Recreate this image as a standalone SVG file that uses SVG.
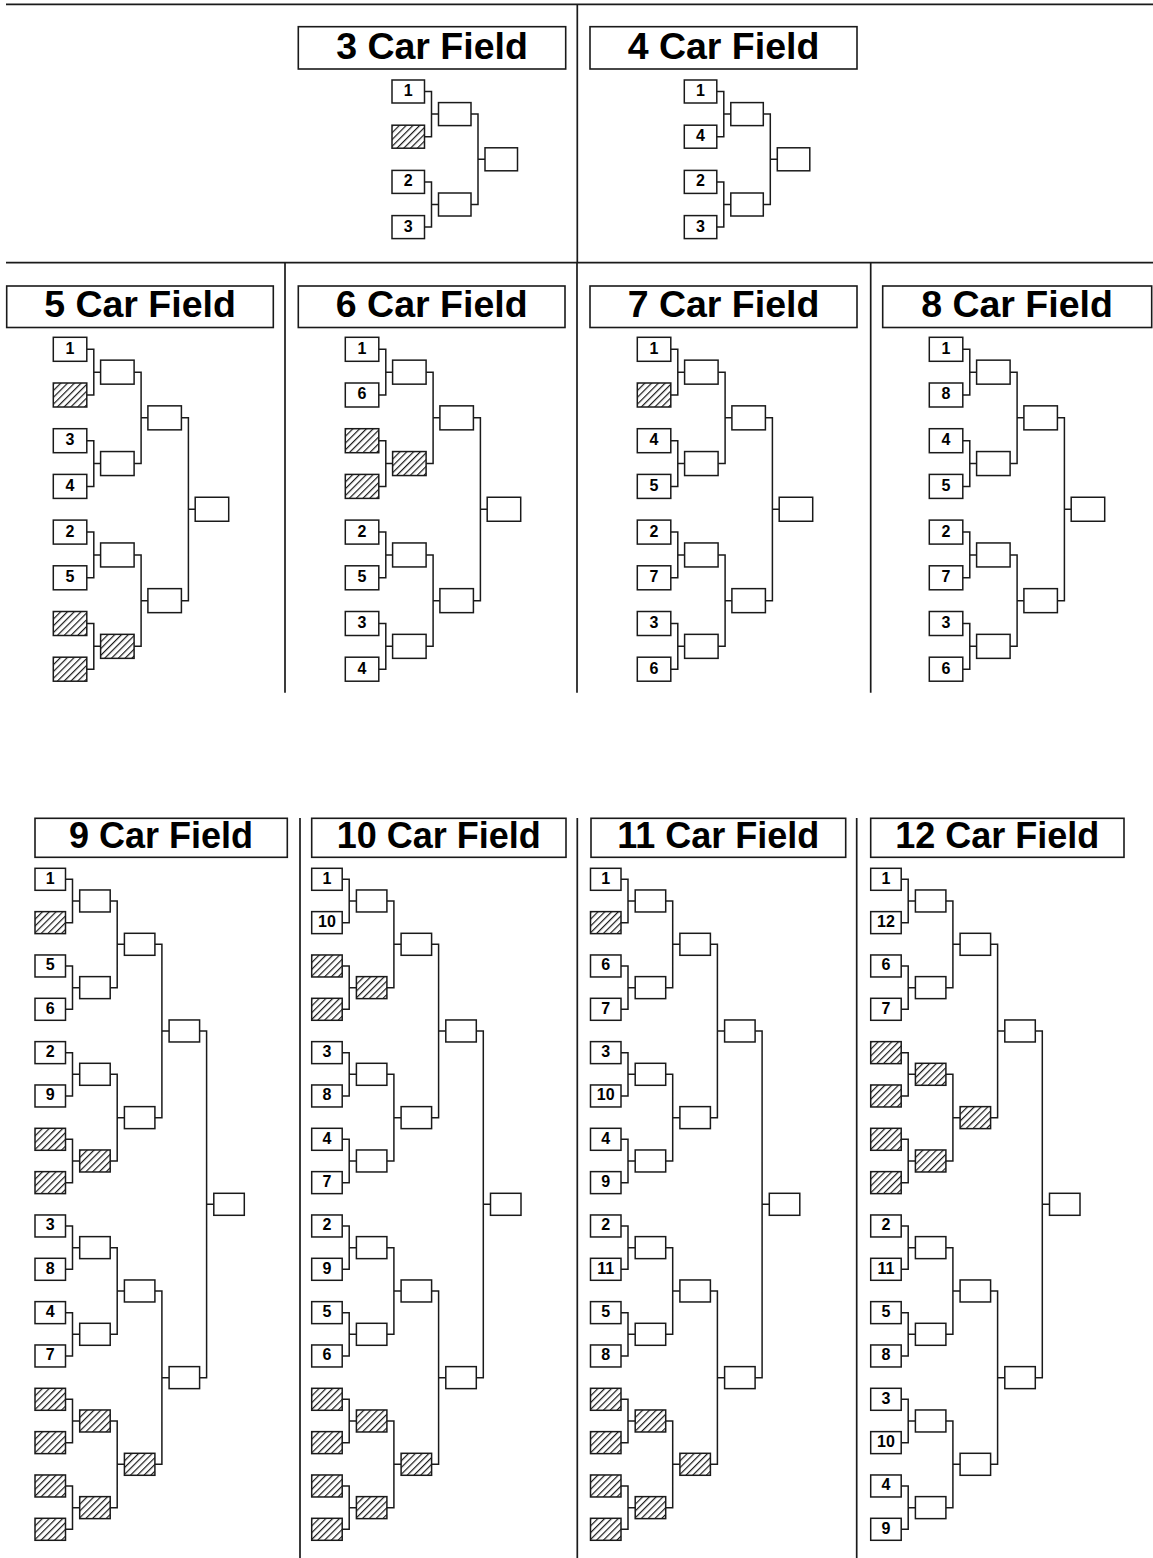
<svg xmlns="http://www.w3.org/2000/svg" xmlns:xlink="http://www.w3.org/1999/xlink" width="1153" height="1558" viewBox="0 0 1153 1558">
<style>
.b{fill:#fff;stroke:#1a1a1a;stroke-width:1.5}
.h{fill:url(#hatch);stroke:#1a1a1a;stroke-width:1.5}
.c{fill:none;stroke:#1a1a1a;stroke-width:1.5}
.d{fill:none;stroke:#1a1a1a;stroke-width:1.7}
.tb{fill:#fff;stroke:#1a1a1a;stroke-width:1.6}
.n{font-family:"Liberation Sans",Arial,sans-serif;font-weight:bold;font-size:16px;text-anchor:middle;fill:#000}
.t{font-family:"Liberation Sans",Arial,sans-serif;font-weight:bold;font-size:37.5px;text-anchor:middle;fill:#000}
.tb2{font-size:36px}
</style>
<defs>
<pattern id="hatch" patternUnits="userSpaceOnUse" width="4.8" height="4.8" patternTransform="rotate(45)">
<rect width="4.8" height="4.8" fill="#fff"/>
<line x1="0.6" y1="0" x2="0.6" y2="4.8" stroke="#1a1a1a" stroke-width="1.2"/>
</pattern>
<rect id="bT" class="b" width="32.5" height="23"/>
<rect id="hT" class="h" width="32.5" height="23"/>
<rect id="bM" class="b" width="33.5" height="24"/>
<rect id="hM" class="h" width="33.5" height="24"/>
<rect id="bB" class="b" width="30.5" height="22"/>
<rect id="hB" class="h" width="30.5" height="22"/>
<path id="cT" d="M32.5,11.5H39.5V56.7H32.5M39.5,34.1H46.5M32.5,101.9H39.5V147.1H32.5M39.5,124.5H46.5M79,34.1H86V124.5H79M86,79.3H93"/>
<path id="cM" d="M33.5,12H40.5V57.7H33.5M40.5,34.85H47.3M33.5,103.4H40.5V149.1H33.5M40.5,126.25H47.3M33.5,194.8H40.5V240.5H33.5M40.5,217.65H47.3M33.5,286.2H40.5V331.9H33.5M40.5,309.05H47.3M80.8,34.85H87.8V126.25H80.8M87.8,80.55H94.6M80.8,217.65H87.8V309.05H80.8M87.8,263.35H94.6M128.1,80.55H135.1V263.35H128.1M135.1,171.95H141.9"/>
<path id="cB" d="M30.5,11H37.5V54.33H30.5M37.5,32.67H44.7M30.5,97.67H37.5V141H30.5M37.5,119.33H44.7M30.5,184.33H37.5V227.67H30.5M37.5,206H44.7M30.5,271H37.5V314.33H30.5M37.5,292.67H44.7M30.5,357.67H37.5V401H30.5M37.5,379.33H44.7M30.5,444.33H37.5V487.67H30.5M37.5,466H44.7M30.5,531H37.5V574.33H30.5M37.5,552.67H44.7M30.5,617.67H37.5V661H30.5M37.5,639.33H44.7M75.2,32.67H82.2V119.33H75.2M82.2,76H89.4M75.2,206H82.2V292.67H75.2M82.2,249.33H89.4M75.2,379.33H82.2V466H75.2M82.2,422.67H89.4M75.2,552.67H82.2V639.33H75.2M82.2,596H89.4M119.9,76H126.9V249.33H119.9M126.9,162.67H134.1M119.9,422.67H126.9V596H119.9M126.9,509.33H134.1M164.6,162.67H171.6V509.33H164.6M171.6,336H178.8"/>
</defs>
<rect width="1153" height="1558" fill="#fff"/>

<g id="dividers" class="d">
<path d="M6,4.3H1153M6,262.7H1153M577.3,4.3V262.7M285,262.7V692.7M577,262.7V692.7M870.7,262.7V692.7M300,818V1558M577.3,818V1558M856.7,818V1558"/>
</g>

<g id="titles">
<g id="title3"><rect class="tb" x="298.3" y="26.7" width="267.4" height="42.3"/><text class="t" x="432" y="58.5">3 Car Field</text></g>
<g id="title4"><rect class="tb" x="590" y="26.7" width="267" height="42.3"/><text class="t" x="723.5" y="58.5">4 Car Field</text></g>
<g id="title5"><rect class="tb" x="6.7" y="286" width="266.6" height="41.5"/><text class="t" x="140" y="317.3">5 Car Field</text></g>
<g id="title6"><rect class="tb" x="298.3" y="286" width="266.7" height="41.5"/><text class="t" x="431.7" y="317.3">6 Car Field</text></g>
<g id="title7"><rect class="tb" x="590" y="286" width="267" height="41.5"/><text class="t" x="723.5" y="317.3">7 Car Field</text></g>
<g id="title8"><rect class="tb" x="882.7" y="286" width="269" height="41.5"/><text class="t" x="1017" y="317.3">8 Car Field</text></g>
<g id="title9"><rect class="tb" x="35" y="818.3" width="252.3" height="39"/><text class="t tb2" x="161" y="848.3">9 Car Field</text></g>
<g id="title10"><rect class="tb" x="311.7" y="818.3" width="254.3" height="39"/><text class="t tb2" x="438.8" y="848.3">10 Car Field</text></g>
<g id="title11"><rect class="tb" x="591" y="818.3" width="254.7" height="39"/><text class="t tb2" x="718.3" y="848.3">11 Car Field</text></g>
<g id="title12"><rect class="tb" x="870.7" y="818.3" width="253.3" height="39"/><text class="t tb2" x="997.3" y="848.3">12 Car Field</text></g>
</g>

<g id="connectors" class="c">
<use href="#cT" x="392" y="80"/>
<use href="#cT" x="684.3" y="80"/>
<use href="#cM" x="53.3" y="337.3"/>
<use href="#cM" x="345.3" y="337.3"/>
<use href="#cM" x="637.3" y="337.3"/>
<use href="#cM" x="929.3" y="337.3"/>
<use href="#cB" x="35" y="868.3"/>
<use href="#cB" x="311.7" y="868.3"/>
<use href="#cB" x="590.5" y="868.3"/>
<use href="#cB" x="870.7" y="868.3"/>
</g>

<g id="field3" transform="translate(392,80)">
<g id="f3-r1-1"><use href="#bT"/><text class="n" x="16.25" y="16">1</text></g>
<g id="f3-r1-2"><use href="#hT" y="45.2"/></g>
<g id="f3-r1-3"><use href="#bT" y="90.4"/><text class="n" x="16.25" y="106.4">2</text></g>
<g id="f3-r1-4"><use href="#bT" y="135.6"/><text class="n" x="16.25" y="151.6">3</text></g>
<g id="f3-r2-1"><use href="#bT" x="46.5" y="22.6"/></g>
<g id="f3-r2-2"><use href="#bT" x="46.5" y="113"/></g>
<g id="f3-r3-1"><use href="#bT" x="93" y="67.8"/></g>
</g>

<g id="field4" transform="translate(684.3,80)">
<g id="f4-r1-1"><use href="#bT"/><text class="n" x="16.25" y="16">1</text></g>
<g id="f4-r1-2"><use href="#bT" y="45.2"/><text class="n" x="16.25" y="61.2">4</text></g>
<g id="f4-r1-3"><use href="#bT" y="90.4"/><text class="n" x="16.25" y="106.4">2</text></g>
<g id="f4-r1-4"><use href="#bT" y="135.6"/><text class="n" x="16.25" y="151.6">3</text></g>
<g id="f4-r2-1"><use href="#bT" x="46.5" y="22.6"/></g>
<g id="f4-r2-2"><use href="#bT" x="46.5" y="113"/></g>
<g id="f4-r3-1"><use href="#bT" x="93" y="67.8"/></g>
</g>

<g id="field5" transform="translate(53.3,337.3)">
<g id="f5-r1-1"><use href="#bM"/><text class="n" x="16.75" y="16.5">1</text></g>
<g id="f5-r1-2"><use href="#hM" y="45.7"/></g>
<g id="f5-r1-3"><use href="#bM" y="91.4"/><text class="n" x="16.75" y="107.9">3</text></g>
<g id="f5-r1-4"><use href="#bM" y="137.1"/><text class="n" x="16.75" y="153.6">4</text></g>
<g id="f5-r1-5"><use href="#bM" y="182.8"/><text class="n" x="16.75" y="199.3">2</text></g>
<g id="f5-r1-6"><use href="#bM" y="228.5"/><text class="n" x="16.75" y="245">5</text></g>
<g id="f5-r1-7"><use href="#hM" y="274.2"/></g>
<g id="f5-r1-8"><use href="#hM" y="319.9"/></g>
<g id="f5-r2-1"><use href="#bM" x="47.3" y="22.85"/></g>
<g id="f5-r2-2"><use href="#bM" x="47.3" y="114.25"/></g>
<g id="f5-r2-3"><use href="#bM" x="47.3" y="205.65"/></g>
<g id="f5-r2-4"><use href="#hM" x="47.3" y="297.05"/></g>
<g id="f5-r3-1"><use href="#bM" x="94.6" y="68.55"/></g>
<g id="f5-r3-2"><use href="#bM" x="94.6" y="251.35"/></g>
<g id="f5-r4-1"><use href="#bM" x="141.9" y="159.95"/></g>
</g>

<g id="field6" transform="translate(345.3,337.3)">
<g id="f6-r1-1"><use href="#bM"/><text class="n" x="16.75" y="16.5">1</text></g>
<g id="f6-r1-2"><use href="#bM" y="45.7"/><text class="n" x="16.75" y="62.2">6</text></g>
<g id="f6-r1-3"><use href="#hM" y="91.4"/></g>
<g id="f6-r1-4"><use href="#hM" y="137.1"/></g>
<g id="f6-r1-5"><use href="#bM" y="182.8"/><text class="n" x="16.75" y="199.3">2</text></g>
<g id="f6-r1-6"><use href="#bM" y="228.5"/><text class="n" x="16.75" y="245">5</text></g>
<g id="f6-r1-7"><use href="#bM" y="274.2"/><text class="n" x="16.75" y="290.7">3</text></g>
<g id="f6-r1-8"><use href="#bM" y="319.9"/><text class="n" x="16.75" y="336.4">4</text></g>
<g id="f6-r2-1"><use href="#bM" x="47.3" y="22.85"/></g>
<g id="f6-r2-2"><use href="#hM" x="47.3" y="114.25"/></g>
<g id="f6-r2-3"><use href="#bM" x="47.3" y="205.65"/></g>
<g id="f6-r2-4"><use href="#bM" x="47.3" y="297.05"/></g>
<g id="f6-r3-1"><use href="#bM" x="94.6" y="68.55"/></g>
<g id="f6-r3-2"><use href="#bM" x="94.6" y="251.35"/></g>
<g id="f6-r4-1"><use href="#bM" x="141.9" y="159.95"/></g>
</g>

<g id="field7" transform="translate(637.3,337.3)">
<g id="f7-r1-1"><use href="#bM"/><text class="n" x="16.75" y="16.5">1</text></g>
<g id="f7-r1-2"><use href="#hM" y="45.7"/></g>
<g id="f7-r1-3"><use href="#bM" y="91.4"/><text class="n" x="16.75" y="107.9">4</text></g>
<g id="f7-r1-4"><use href="#bM" y="137.1"/><text class="n" x="16.75" y="153.6">5</text></g>
<g id="f7-r1-5"><use href="#bM" y="182.8"/><text class="n" x="16.75" y="199.3">2</text></g>
<g id="f7-r1-6"><use href="#bM" y="228.5"/><text class="n" x="16.75" y="245">7</text></g>
<g id="f7-r1-7"><use href="#bM" y="274.2"/><text class="n" x="16.75" y="290.7">3</text></g>
<g id="f7-r1-8"><use href="#bM" y="319.9"/><text class="n" x="16.75" y="336.4">6</text></g>
<g id="f7-r2-1"><use href="#bM" x="47.3" y="22.85"/></g>
<g id="f7-r2-2"><use href="#bM" x="47.3" y="114.25"/></g>
<g id="f7-r2-3"><use href="#bM" x="47.3" y="205.65"/></g>
<g id="f7-r2-4"><use href="#bM" x="47.3" y="297.05"/></g>
<g id="f7-r3-1"><use href="#bM" x="94.6" y="68.55"/></g>
<g id="f7-r3-2"><use href="#bM" x="94.6" y="251.35"/></g>
<g id="f7-r4-1"><use href="#bM" x="141.9" y="159.95"/></g>
</g>

<g id="field8" transform="translate(929.3,337.3)">
<g id="f8-r1-1"><use href="#bM"/><text class="n" x="16.75" y="16.5">1</text></g>
<g id="f8-r1-2"><use href="#bM" y="45.7"/><text class="n" x="16.75" y="62.2">8</text></g>
<g id="f8-r1-3"><use href="#bM" y="91.4"/><text class="n" x="16.75" y="107.9">4</text></g>
<g id="f8-r1-4"><use href="#bM" y="137.1"/><text class="n" x="16.75" y="153.6">5</text></g>
<g id="f8-r1-5"><use href="#bM" y="182.8"/><text class="n" x="16.75" y="199.3">2</text></g>
<g id="f8-r1-6"><use href="#bM" y="228.5"/><text class="n" x="16.75" y="245">7</text></g>
<g id="f8-r1-7"><use href="#bM" y="274.2"/><text class="n" x="16.75" y="290.7">3</text></g>
<g id="f8-r1-8"><use href="#bM" y="319.9"/><text class="n" x="16.75" y="336.4">6</text></g>
<g id="f8-r2-1"><use href="#bM" x="47.3" y="22.85"/></g>
<g id="f8-r2-2"><use href="#bM" x="47.3" y="114.25"/></g>
<g id="f8-r2-3"><use href="#bM" x="47.3" y="205.65"/></g>
<g id="f8-r2-4"><use href="#bM" x="47.3" y="297.05"/></g>
<g id="f8-r3-1"><use href="#bM" x="94.6" y="68.55"/></g>
<g id="f8-r3-2"><use href="#bM" x="94.6" y="251.35"/></g>
<g id="f8-r4-1"><use href="#bM" x="141.9" y="159.95"/></g>
</g>

<g id="field9" transform="translate(35,868.3)">
<g id="f9-r1-1"><use href="#bB"/><text class="n" x="15.25" y="15.5">1</text></g>
<g id="f9-r1-2"><use href="#hB" y="43.33"/></g>
<g id="f9-r1-3"><use href="#bB" y="86.67"/><text class="n" x="15.25" y="102.17">5</text></g>
<g id="f9-r1-4"><use href="#bB" y="130"/><text class="n" x="15.25" y="145.5">6</text></g>
<g id="f9-r1-5"><use href="#bB" y="173.33"/><text class="n" x="15.25" y="188.83">2</text></g>
<g id="f9-r1-6"><use href="#bB" y="216.67"/><text class="n" x="15.25" y="232.17">9</text></g>
<g id="f9-r1-7"><use href="#hB" y="260"/></g>
<g id="f9-r1-8"><use href="#hB" y="303.33"/></g>
<g id="f9-r1-9"><use href="#bB" y="346.67"/><text class="n" x="15.25" y="362.17">3</text></g>
<g id="f9-r1-10"><use href="#bB" y="390"/><text class="n" x="15.25" y="405.5">8</text></g>
<g id="f9-r1-11"><use href="#bB" y="433.33"/><text class="n" x="15.25" y="448.83">4</text></g>
<g id="f9-r1-12"><use href="#bB" y="476.67"/><text class="n" x="15.25" y="492.17">7</text></g>
<g id="f9-r1-13"><use href="#hB" y="520"/></g>
<g id="f9-r1-14"><use href="#hB" y="563.33"/></g>
<g id="f9-r1-15"><use href="#hB" y="606.67"/></g>
<g id="f9-r1-16"><use href="#hB" y="650"/></g>
<g id="f9-r2-1"><use href="#bB" x="44.7" y="21.67"/></g>
<g id="f9-r2-2"><use href="#bB" x="44.7" y="108.33"/></g>
<g id="f9-r2-3"><use href="#bB" x="44.7" y="195"/></g>
<g id="f9-r2-4"><use href="#hB" x="44.7" y="281.67"/></g>
<g id="f9-r2-5"><use href="#bB" x="44.7" y="368.33"/></g>
<g id="f9-r2-6"><use href="#bB" x="44.7" y="455"/></g>
<g id="f9-r2-7"><use href="#hB" x="44.7" y="541.67"/></g>
<g id="f9-r2-8"><use href="#hB" x="44.7" y="628.33"/></g>
<g id="f9-r3-1"><use href="#bB" x="89.4" y="65"/></g>
<g id="f9-r3-2"><use href="#bB" x="89.4" y="238.33"/></g>
<g id="f9-r3-3"><use href="#bB" x="89.4" y="411.67"/></g>
<g id="f9-r3-4"><use href="#hB" x="89.4" y="585"/></g>
<g id="f9-r4-1"><use href="#bB" x="134.1" y="151.67"/></g>
<g id="f9-r4-2"><use href="#bB" x="134.1" y="498.33"/></g>
<g id="f9-r5-1"><use href="#bB" x="178.8" y="325"/></g>
</g>

<g id="field10" transform="translate(311.7,868.3)">
<g id="f10-r1-1"><use href="#bB"/><text class="n" x="15.25" y="15.5">1</text></g>
<g id="f10-r1-2"><use href="#bB" y="43.33"/><text class="n" x="15.25" y="58.83">10</text></g>
<g id="f10-r1-3"><use href="#hB" y="86.67"/></g>
<g id="f10-r1-4"><use href="#hB" y="130"/></g>
<g id="f10-r1-5"><use href="#bB" y="173.33"/><text class="n" x="15.25" y="188.83">3</text></g>
<g id="f10-r1-6"><use href="#bB" y="216.67"/><text class="n" x="15.25" y="232.17">8</text></g>
<g id="f10-r1-7"><use href="#bB" y="260"/><text class="n" x="15.25" y="275.5">4</text></g>
<g id="f10-r1-8"><use href="#bB" y="303.33"/><text class="n" x="15.25" y="318.83">7</text></g>
<g id="f10-r1-9"><use href="#bB" y="346.67"/><text class="n" x="15.25" y="362.17">2</text></g>
<g id="f10-r1-10"><use href="#bB" y="390"/><text class="n" x="15.25" y="405.5">9</text></g>
<g id="f10-r1-11"><use href="#bB" y="433.33"/><text class="n" x="15.25" y="448.83">5</text></g>
<g id="f10-r1-12"><use href="#bB" y="476.67"/><text class="n" x="15.25" y="492.17">6</text></g>
<g id="f10-r1-13"><use href="#hB" y="520"/></g>
<g id="f10-r1-14"><use href="#hB" y="563.33"/></g>
<g id="f10-r1-15"><use href="#hB" y="606.67"/></g>
<g id="f10-r1-16"><use href="#hB" y="650"/></g>
<g id="f10-r2-1"><use href="#bB" x="44.7" y="21.67"/></g>
<g id="f10-r2-2"><use href="#hB" x="44.7" y="108.33"/></g>
<g id="f10-r2-3"><use href="#bB" x="44.7" y="195"/></g>
<g id="f10-r2-4"><use href="#bB" x="44.7" y="281.67"/></g>
<g id="f10-r2-5"><use href="#bB" x="44.7" y="368.33"/></g>
<g id="f10-r2-6"><use href="#bB" x="44.7" y="455"/></g>
<g id="f10-r2-7"><use href="#hB" x="44.7" y="541.67"/></g>
<g id="f10-r2-8"><use href="#hB" x="44.7" y="628.33"/></g>
<g id="f10-r3-1"><use href="#bB" x="89.4" y="65"/></g>
<g id="f10-r3-2"><use href="#bB" x="89.4" y="238.33"/></g>
<g id="f10-r3-3"><use href="#bB" x="89.4" y="411.67"/></g>
<g id="f10-r3-4"><use href="#hB" x="89.4" y="585"/></g>
<g id="f10-r4-1"><use href="#bB" x="134.1" y="151.67"/></g>
<g id="f10-r4-2"><use href="#bB" x="134.1" y="498.33"/></g>
<g id="f10-r5-1"><use href="#bB" x="178.8" y="325"/></g>
</g>

<g id="field11" transform="translate(590.5,868.3)">
<g id="f11-r1-1"><use href="#bB"/><text class="n" x="15.25" y="15.5">1</text></g>
<g id="f11-r1-2"><use href="#hB" y="43.33"/></g>
<g id="f11-r1-3"><use href="#bB" y="86.67"/><text class="n" x="15.25" y="102.17">6</text></g>
<g id="f11-r1-4"><use href="#bB" y="130"/><text class="n" x="15.25" y="145.5">7</text></g>
<g id="f11-r1-5"><use href="#bB" y="173.33"/><text class="n" x="15.25" y="188.83">3</text></g>
<g id="f11-r1-6"><use href="#bB" y="216.67"/><text class="n" x="15.25" y="232.17">10</text></g>
<g id="f11-r1-7"><use href="#bB" y="260"/><text class="n" x="15.25" y="275.5">4</text></g>
<g id="f11-r1-8"><use href="#bB" y="303.33"/><text class="n" x="15.25" y="318.83">9</text></g>
<g id="f11-r1-9"><use href="#bB" y="346.67"/><text class="n" x="15.25" y="362.17">2</text></g>
<g id="f11-r1-10"><use href="#bB" y="390"/><text class="n" x="15.25" y="405.5">11</text></g>
<g id="f11-r1-11"><use href="#bB" y="433.33"/><text class="n" x="15.25" y="448.83">5</text></g>
<g id="f11-r1-12"><use href="#bB" y="476.67"/><text class="n" x="15.25" y="492.17">8</text></g>
<g id="f11-r1-13"><use href="#hB" y="520"/></g>
<g id="f11-r1-14"><use href="#hB" y="563.33"/></g>
<g id="f11-r1-15"><use href="#hB" y="606.67"/></g>
<g id="f11-r1-16"><use href="#hB" y="650"/></g>
<g id="f11-r2-1"><use href="#bB" x="44.7" y="21.67"/></g>
<g id="f11-r2-2"><use href="#bB" x="44.7" y="108.33"/></g>
<g id="f11-r2-3"><use href="#bB" x="44.7" y="195"/></g>
<g id="f11-r2-4"><use href="#bB" x="44.7" y="281.67"/></g>
<g id="f11-r2-5"><use href="#bB" x="44.7" y="368.33"/></g>
<g id="f11-r2-6"><use href="#bB" x="44.7" y="455"/></g>
<g id="f11-r2-7"><use href="#hB" x="44.7" y="541.67"/></g>
<g id="f11-r2-8"><use href="#hB" x="44.7" y="628.33"/></g>
<g id="f11-r3-1"><use href="#bB" x="89.4" y="65"/></g>
<g id="f11-r3-2"><use href="#bB" x="89.4" y="238.33"/></g>
<g id="f11-r3-3"><use href="#bB" x="89.4" y="411.67"/></g>
<g id="f11-r3-4"><use href="#hB" x="89.4" y="585"/></g>
<g id="f11-r4-1"><use href="#bB" x="134.1" y="151.67"/></g>
<g id="f11-r4-2"><use href="#bB" x="134.1" y="498.33"/></g>
<g id="f11-r5-1"><use href="#bB" x="178.8" y="325"/></g>
</g>

<g id="field12" transform="translate(870.7,868.3)">
<g id="f12-r1-1"><use href="#bB"/><text class="n" x="15.25" y="15.5">1</text></g>
<g id="f12-r1-2"><use href="#bB" y="43.33"/><text class="n" x="15.25" y="58.83">12</text></g>
<g id="f12-r1-3"><use href="#bB" y="86.67"/><text class="n" x="15.25" y="102.17">6</text></g>
<g id="f12-r1-4"><use href="#bB" y="130"/><text class="n" x="15.25" y="145.5">7</text></g>
<g id="f12-r1-5"><use href="#hB" y="173.33"/></g>
<g id="f12-r1-6"><use href="#hB" y="216.67"/></g>
<g id="f12-r1-7"><use href="#hB" y="260"/></g>
<g id="f12-r1-8"><use href="#hB" y="303.33"/></g>
<g id="f12-r1-9"><use href="#bB" y="346.67"/><text class="n" x="15.25" y="362.17">2</text></g>
<g id="f12-r1-10"><use href="#bB" y="390"/><text class="n" x="15.25" y="405.5">11</text></g>
<g id="f12-r1-11"><use href="#bB" y="433.33"/><text class="n" x="15.25" y="448.83">5</text></g>
<g id="f12-r1-12"><use href="#bB" y="476.67"/><text class="n" x="15.25" y="492.17">8</text></g>
<g id="f12-r1-13"><use href="#bB" y="520"/><text class="n" x="15.25" y="535.5">3</text></g>
<g id="f12-r1-14"><use href="#bB" y="563.33"/><text class="n" x="15.25" y="578.83">10</text></g>
<g id="f12-r1-15"><use href="#bB" y="606.67"/><text class="n" x="15.25" y="622.17">4</text></g>
<g id="f12-r1-16"><use href="#bB" y="650"/><text class="n" x="15.25" y="665.5">9</text></g>
<g id="f12-r2-1"><use href="#bB" x="44.7" y="21.67"/></g>
<g id="f12-r2-2"><use href="#bB" x="44.7" y="108.33"/></g>
<g id="f12-r2-3"><use href="#hB" x="44.7" y="195"/></g>
<g id="f12-r2-4"><use href="#hB" x="44.7" y="281.67"/></g>
<g id="f12-r2-5"><use href="#bB" x="44.7" y="368.33"/></g>
<g id="f12-r2-6"><use href="#bB" x="44.7" y="455"/></g>
<g id="f12-r2-7"><use href="#bB" x="44.7" y="541.67"/></g>
<g id="f12-r2-8"><use href="#bB" x="44.7" y="628.33"/></g>
<g id="f12-r3-1"><use href="#bB" x="89.4" y="65"/></g>
<g id="f12-r3-2"><use href="#hB" x="89.4" y="238.33"/></g>
<g id="f12-r3-3"><use href="#bB" x="89.4" y="411.67"/></g>
<g id="f12-r3-4"><use href="#bB" x="89.4" y="585"/></g>
<g id="f12-r4-1"><use href="#bB" x="134.1" y="151.67"/></g>
<g id="f12-r4-2"><use href="#bB" x="134.1" y="498.33"/></g>
<g id="f12-r5-1"><use href="#bB" x="178.8" y="325"/></g>
</g>
</svg>
